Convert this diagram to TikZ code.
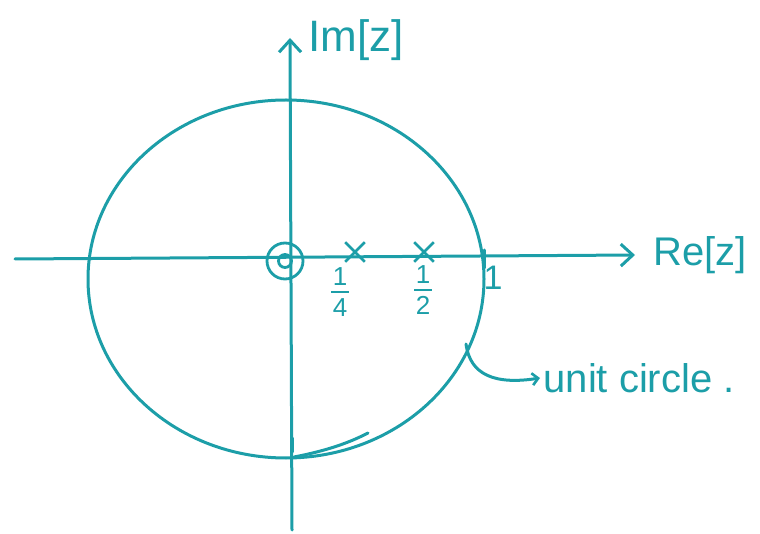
\documentclass[tikz,border=0pt]{standalone}
\usepackage{fontspec}
\setmainfont{Liberation Sans}
\definecolor{ink}{RGB}{28,158,168}
\usetikzlibrary{arrows.meta,shapes.misc,positioning,calc}
\newcommand{\handfrac}[2]{\shortstack{#1\\[2pt]\rule{18pt}{2.4pt}\\[2pt]#2}}
\tikzset{
	pen/.style={draw=ink, line width=3pt, line cap=round},
	axis/.style={pen, -{Straight Barb[length=12pt,width=22pt,line width=3pt]}},
	pole/.style={cross out, draw=ink, line width=2.6pt, minimum size=17pt, inner sep=0pt},
	zero/.style={circle, draw=ink, line width=2.8pt, inner sep=0pt},
	tag/.style={text=ink, font=\fontsize{40}{44}\selectfont},
	numtag/.style={text=ink, font=\fontsize{26}{27}\selectfont, inner sep=0pt}
}

\begin{document}
\begin{tikzpicture}[x=1pt, y=-1pt]
	\useasboundingbox (0,0) rectangle (760,534);
	% axes
	\coordinate (O) at (287,260);
	\coordinate (reL) at (15,259);
	\coordinate (reR) at (635,255);
	\coordinate (imB) at (292,530);
	\coordinate (imT) at (290,38);
	\draw[axis] (reL) -- (reR);
	\draw[axis] (imB) -- (imT);
	\node[tag, anchor=west] (re) at (650,255) {Re[z]};
	\node[tag, anchor=west, font=\fontsize{44}{48}\selectfont] (im) at (305,40) {Im[z]};
	% unit circle
	\draw[pen] (286,279) ellipse [x radius=198, y radius=179];
	\draw[pen] (484,250) -- (484,268);
	\node[numtag, font=\fontsize{34}{36}\selectfont] (one) at (493,278) {1};
	\draw[pen] (292,438) -- (292,452);
	\draw[pen] (294,457) .. controls (320,452) and (345,445) .. (368,433);
	% zero and poles
	\node[zero, minimum size=36pt] (z0) at (285,261) {};
	\node[zero, minimum size=13pt] (z0in) at (z0) {};
	\node[pole] (p1) at (355,252) {};
	\node[pole] (p2) at (424,252) {};
	\node[numtag] (f1) at (340,292) {\handfrac{1}{4}};
	\node[numtag] (f2) at (423,290) {\handfrac{1}{2}};
	% label
	\node[tag, anchor=west] (uc) at (540,378) {unit circle .};
	\coordinate (ucpt) at (466,344);
	\draw[pen, -{Straight Barb[length=6pt,width=12pt,line width=2.6pt]}] (ucpt) .. controls (470,375) and (495,385) .. (uc.west);
\end{tikzpicture}
\end{document}
